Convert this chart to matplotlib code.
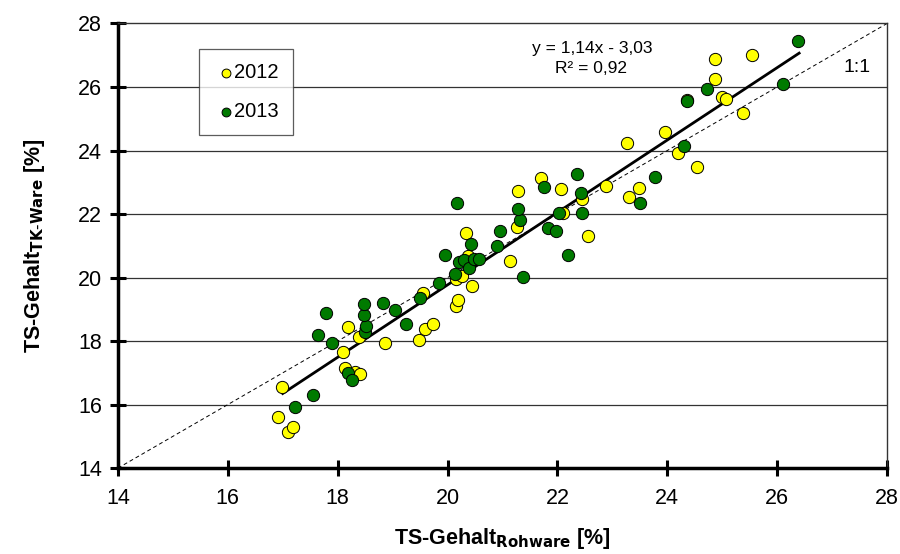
import matplotlib
matplotlib.use("Agg")
import matplotlib.pyplot as plt
import numpy as np

plt.rcParams['font.family'] = ['Liberation Sans', 'DejaVu Sans']

x2012 = [16.98, 16.92, 17.10, 17.19, 18.10, 18.19, 18.13, 18.31, 18.40, 18.38,
         18.87, 19.48, 19.59, 19.73, 19.56, 20.16, 20.19, 20.15, 20.27, 20.37,
         20.45, 20.34, 21.14, 21.26, 21.29, 21.70, 22.07, 22.45, 22.89, 22.56,
         22.10, 25.54, 24.87, 24.86, 24.99, 25.07, 24.35, 25.38, 23.96, 23.27,
         24.20, 24.54, 23.49, 23.30]
y2012 = [16.56, 15.62, 15.13, 15.30, 17.66, 18.45, 17.14, 17.03, 16.95, 18.14,
         17.93, 18.03, 18.37, 18.53, 19.50, 19.11, 19.29, 19.97, 20.05, 20.68,
         19.75, 21.39, 20.52, 21.60, 22.73, 23.12, 22.79, 22.46, 22.88, 21.31,
         22.02, 27.01, 26.88, 26.24, 25.69, 25.61, 25.58, 25.17, 24.59, 24.23,
         23.91, 23.49, 22.81, 22.53]

x2013 = [17.22, 17.56, 17.65, 17.78, 17.90, 18.19, 18.26, 18.49, 18.51, 18.48,
         18.48, 18.82, 19.05, 19.24, 19.50, 19.84, 19.95, 20.13, 20.21, 20.30,
         20.39, 20.49, 20.58, 20.42, 20.17, 20.90, 20.96, 21.37, 21.31, 21.28,
         21.76, 22.35, 22.43, 22.44, 22.20, 21.82, 21.98, 22.02, 26.38, 24.72,
         26.11, 24.36, 24.30, 23.78, 23.51]
y2013 = [15.92, 16.30, 18.19, 18.88, 17.95, 16.98, 16.77, 18.29, 18.48, 18.83,
         19.16, 19.21, 18.98, 18.54, 19.35, 19.82, 20.71, 20.10, 20.50, 20.55,
         20.29, 20.58, 20.60, 21.05, 22.36, 20.99, 21.47, 20.03, 21.81, 22.15,
         22.86, 23.26, 22.65, 22.04, 20.71, 21.57, 21.46, 22.02, 27.46, 25.93,
         26.09, 25.56, 24.14, 23.17, 22.36]

slope, intercept = 1.14, -3.03
fit_range = [17.0, 26.4]

fig = plt.figure(figsize=(9, 5.54), dpi=100)
ax = fig.add_axes([0.131, 0.155, 0.8546, 0.8026])

ax.set_xlim(14, 28)
ax.set_ylim(14, 28)
ticks = np.arange(14, 29, 2)
ax.set_xticks(ticks)
ax.set_yticks(ticks)
ax.tick_params(axis='both', labelsize=15.5, direction='inout', length=11, width=2.2)
ax.tick_params(axis='x', pad=9)
ax.tick_params(axis='y', pad=6)

for t in ticks[1:-1]:
    ax.axhline(t, color='#333333', lw=0.9, zorder=0)

ax.plot([14, 28], [14, 28], ls=(0, (4, 3)), color='black', lw=0.7, zorder=1)
fx = np.array(fit_range)
ax.plot(fx, slope * fx + intercept, color='black', lw=2, zorder=3)

ax.scatter(x2012, y2012, s=78, facecolor='#FFFF00', edgecolor='black', linewidth=0.7, zorder=4, label='2012')
ax.scatter(x2013, y2013, s=78, facecolor='#007A00', edgecolor='black', linewidth=0.7, zorder=5, label='2013')

for side in ['left', 'bottom']:
    ax.spines[side].set_linewidth(2.5)
for side in ['top', 'right']:
    ax.spines[side].set_linewidth(1.0)
    ax.spines[side].set_color('#333333')

ax.text(22.64, 27.2, 'y = 1,14x - 3,03', ha='center', va='center', fontsize=12.5)
ax.text(22.62, 26.58, 'R² = 0,92', ha='center', va='center', fontsize=12.5)
ax.text(27.45, 26.63, '1:1', ha='center', va='center', fontsize=14)

leg = ax.legend(loc='upper left', bbox_to_anchor=(0.105, 0.943), frameon=True, fancybox=False,
                edgecolor='#333333', fontsize=14.5, markerscale=0.72, handletextpad=-0.25,
                handlelength=1.3, labelspacing=1.0, borderpad=0.7, borderaxespad=0)
leg.get_frame().set_linewidth(0.9)

ax.set_xlabel('TS-Gehalt$_{\\mathbf{Rohware}}$ [%]', fontsize=15.5, fontweight='bold', labelpad=12)
ax.set_ylabel('TS-Gehalt$_{\\mathbf{TK\\text{-}Ware}}$ [%]', fontsize=15.5, fontweight='bold', labelpad=22)

fig.savefig('out.png', dpi=100)
